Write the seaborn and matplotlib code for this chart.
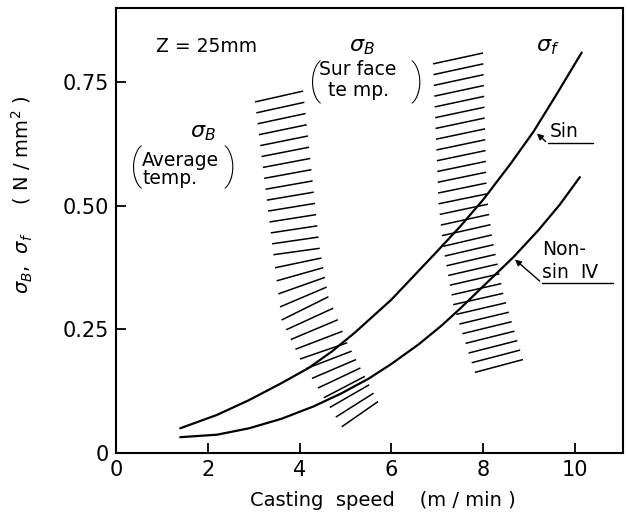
import numpy as np
import pandas as pd
import matplotlib
matplotlib.use("Agg")
import matplotlib.pyplot as plt
import seaborn as sns

# ---- data ----
sin_x = [1.4, 2.2, 2.9, 3.6, 4.2, 4.7, 5.2, 6.0, 7.0, 7.5, 8.0, 8.6, 9.1, 9.6, 10.15]
sin_y = [0.050, 0.077, 0.107, 0.141, 0.172, 0.205, 0.243, 0.310, 0.408, 0.458, 0.512, 0.585, 0.650, 0.725, 0.810]

nonsin_x = [1.4, 2.2, 2.9, 3.6, 4.3, 4.9, 5.5, 6.0, 6.6, 7.1, 7.5, 8.0, 8.66, 9.2, 9.67, 10.11]
nonsin_y = [0.032, 0.037, 0.050, 0.069, 0.094, 0.120, 0.150, 0.180, 0.220, 0.258, 0.292, 0.337, 0.396, 0.450, 0.502, 0.558]

# hatched bands: control lines (index of hatch line, left end, right end)
avg_idx = [0, 14, 19, 23, 30]
avg_left_x = [3.03, 3.43, 3.61, 4.01, 4.92]
avg_left_y = [0.710, 0.401, 0.269, 0.190, 0.053]
avg_right_x = [4.08, 4.44, 4.63, 5.04, 5.71]
avg_right_y = [0.732, 0.414, 0.316, 0.223, 0.104]

surf_idx = [0, 13, 17, 23, 30]
surf_left_x = [6.91, 7.03, 7.13, 7.35, 7.82]
surf_left_y = [0.787, 0.504, 0.418, 0.300, 0.163]
surf_right_x = [8.00, 8.08, 8.19, 8.44, 8.87]
surf_right_y = [0.809, 0.524, 0.441, 0.323, 0.189]

x_ticks = [0, 2, 4, 6, 8, 10]
x_ticklabels = ["0", "2", "4", "6", "8", "10"]
y_ticks = [0, 0.25, 0.50, 0.75]
y_ticklabels = ["0", "0.25", "0.50", "0.75"]

# ---- figure ----
sns.set_theme(style="ticks", rc={"text.color": "black", "axes.labelcolor": "black",
                                 "xtick.color": "black", "ytick.color": "black",
                                 "axes.edgecolor": "black"})
plt.rcParams["font.family"] = ["DejaVu Sans"]
plt.rcParams["mathtext.fontset"] = "dejavusans"

fig = plt.figure(figsize=(6.28, 5.18), dpi=100)
ax = fig.add_axes([116 / 628, 1 - 453 / 518, 507 / 628, 445 / 518])

df = pd.concat([
    pd.DataFrame({"x": sin_x, "y": sin_y, "s": "Sin"}),
    pd.DataFrame({"x": nonsin_x, "y": nonsin_y, "s": "Non-sin IV"}),
])
sns.lineplot(data=df, x="x", y="y", units="s", estimator=None, sort=False,
             color="black", lw=1.6, ax=ax, legend=False)

def hatch(idx, lx, ly, rx, ry):
    k = np.arange(idx[0], idx[-1] + 1)
    x0 = np.interp(k, idx, lx); y0 = np.interp(k, idx, ly)
    x1 = np.interp(k, idx, rx); y1 = np.interp(k, idx, ry)
    for a, b, c, d in zip(x0, y0, x1, y1):
        ax.plot([a, c], [b, d], color="black", lw=1.1, solid_capstyle="butt")

hatch(avg_idx, avg_left_x, avg_left_y, avg_right_x, avg_right_y)
hatch(surf_idx, surf_left_x, surf_left_y, surf_right_x, surf_right_y)

ax.set_xlim(0, 11.05)
ax.set_ylim(0, 0.90)
ax.set_xticks(x_ticks)
ax.set_xticklabels(x_ticklabels)
ax.set_yticks(y_ticks)
ax.set_yticklabels(y_ticklabels)
ax.tick_params(direction="in", length=7, width=1.3, labelsize=15, pad=5, colors="black")
for sp in ax.spines.values():
    sp.set_visible(True)
    sp.set_linewidth(1.5)
    sp.set_color("black")

ax.set_xlabel("Casting  speed    (m / min )", fontsize=14)
ax.xaxis.set_label_coords(0.527, -0.085)
ax.set_ylabel(r"$\sigma_{B}$,  $\sigma_{f}$     ( N / mm$^{2}$ )", fontsize=14)
ax.yaxis.set_label_coords(-0.16, 0.58)

fs = 13.5
par = dict(fontsize=30, ha="center", va="center", family=["Roboto", "DejaVu Sans"],
           fontweight="light")
ax.text(1.98, 0.822, "Z = 25mm", fontsize=fs, ha="center", va="center")
ax.text(1.9, 0.648, r"$\sigma_{B}$", fontsize=16, ha="center", va="center")
ax.text(0.44, 0.578, "(", **par)
ax.text(0.57, 0.573, "Average\ntemp.", fontsize=fs, ha="left", va="center", linespacing=0.95)
ax.text(2.48, 0.578, ")", **par)

ax.text(5.36, 0.822, r"$\sigma_{B}$", fontsize=16, ha="center", va="center")
ax.text(4.34, 0.750, "(", **par)
ax.text(4.42, 0.775, "Sur face", fontsize=fs, ha="left", va="center")
ax.text(4.62, 0.733, "te mp.", fontsize=fs, ha="left", va="center")
ax.text(6.55, 0.750, ")", **par)

ax.text(9.41, 0.822, r"$\sigma_{f}$", fontsize=16, ha="center", va="center")

# Sin label with leader
ax.text(9.45, 0.632, "Sin", fontsize=fs, ha="left", va="bottom")
ax.plot([9.41, 10.39], [0.626, 0.626], color="black", lw=1.0)
ax.annotate("", xy=(9.13, 0.650), xytext=(9.41, 0.626),
            arrowprops=dict(arrowstyle="-|>", color="black", lw=1.0, mutation_scale=9))

# Non-sin IV label with leader
ax.text(9.28, 0.411, "Non-", fontsize=fs, ha="left", va="center")
ax.text(9.28, 0.366, "sin  Ⅳ", fontsize=fs, ha="left", va="center")
ax.plot([9.28, 10.83], [0.344, 0.344], color="black", lw=1.0)
ax.annotate("", xy=(8.65, 0.395), xytext=(9.28, 0.344),
            arrowprops=dict(arrowstyle="-|>", color="black", lw=1.0, mutation_scale=9))

fig.savefig("out.png", dpi=100, facecolor="white")
